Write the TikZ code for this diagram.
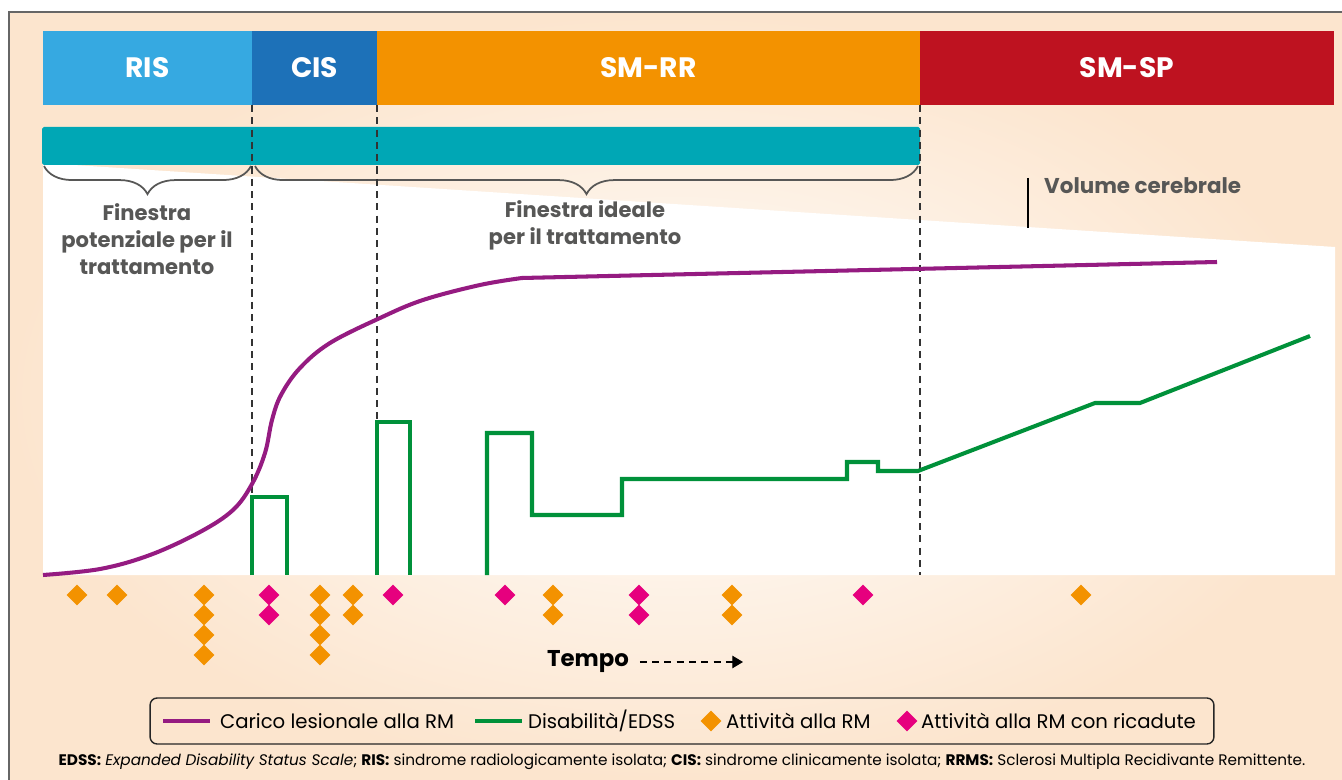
\documentclass[tikz,border=0pt]{standalone}
\usepackage{fontspec}
\setmainfont{Poppins}
\usetikzlibrary{shapes.geometric,decorations.pathreplacing,arrows.meta}

\definecolor{risblue}{HTML}{36A9E1}
\definecolor{cisblue}{HTML}{1D71B8}
\definecolor{rrorange}{HTML}{F39200}
\definecolor{spred}{HTML}{BE1220}
\definecolor{windowteal}{HTML}{00A7B5}
\definecolor{lesionpurple}{HTML}{951B81}
\definecolor{edssgreen}{HTML}{00913A}
\definecolor{relapsemagenta}{HTML}{E6007E}
\definecolor{labelgray}{HTML}{575756}
\definecolor{peach}{HTML}{FCE5CE}

\tikzset{
  phase/.style={fill=#1, text=white, font=\fontsize{16}{19}\selectfont\bfseries,
    minimum height=1.48cm, inner sep=0pt, outer sep=0pt},
  window/.style={text=labelgray, align=center, font=\fontsize{12}{15.4}\selectfont\bfseries},
  bracket/.style={labelgray, line width=1pt, decorate,
    decoration={brace, amplitude=16pt, aspect=0.5}},
  divider/.style={black!80, line width=0.7pt, dash pattern=on 4pt off 3pt},
  lesion/.style={diamond, fill=#1, inner sep=0pt, minimum size=0.42cm},
  entry/.style={anchor=west, font=\fontsize{11.2}{13}\selectfont, inner sep=1pt}
}

\begin{document}
\begin{tikzpicture}[x=0.02cm, y=-0.02cm]
  \useasboundingbox (0,0) rectangle (1342,780);

  % Background and frame
  \fill[white] (0,0) rectangle (1342,780);
  \shade[inner color=white, outer color=peach] (9,12) rectangle (1342,780);
  \draw[black!60, line width=0.7pt] (9,780) -- (9,12) -- (1342,12);

  % White plot area
  \fill[white] (43,163) -- (1335,247) -- (1335,575) -- (43,575) -- cycle;

  % Phases
  \node[phase=risblue, minimum width=4.18cm] (ris) at (147.5,68) {RIS};
  \node[phase=cisblue, minimum width=2.5cm] (cis) at (314.5,68) {CIS};
  \node[phase=rrorange, minimum width=10.86cm] (smrr) at (648.5,68) {SM-RR};
  \node[phase=spred, minimum width=8.28cm] (smsp) at (1127,68) {SM-SP};

  % Treatment window bar
  \fill[windowteal, rounded corners=1pt] (42,127) rectangle (920,165);

  % Braces
  \draw[bracket] (251,166) -- (44,166);
  \draw[bracket] (918,166) -- (255,166);
  \node[window] (potential) at (147,239) {Finestra\\potenziale per il\\trattamento};
  \node[window] (ideal) at (585,225) {Finestra ideale\\per il trattamento};

  % Phase dividers
  \draw[divider] (252,105) -- (252,575);
  \draw[divider] (377,105) -- (377,575);
  \draw[divider] (920,105) -- (920,575);

  % Brain volume label
  \draw[black, line width=0.6pt] (1028,178) -- (1028,228);
  \node[text=labelgray, anchor=west, font=\fontsize{12.2}{15}\selectfont\bfseries] (volume) at (1038,186) {Volume cerebrale};

  % Lesion load (MRI)
  \draw[lesionpurple, line width=2.3pt] plot[smooth, tension=0.6]
    coordinates {(43,575) (100,569) (150,555) (200,532) (233,510) (252,484) (265,453) (272,420) (281,395) (300,368) (330,343) (380,318) (423,300) (480,285) (522,278)}
    -- (1217,262);

  % Disability / EDSS
  \draw[edssgreen, line width=2.3pt] (252,575) -- (252,497) -- (287,497) -- (287,575);
  \draw[edssgreen, line width=2.3pt] (377,575) -- (377,422) -- (410,422) -- (410,575);
  \draw[edssgreen, line width=2.3pt] (487,575) -- (487,433) -- (532,433) -- (532,515)
    -- (622,515) -- (622,479) -- (847,479) -- (847,462) -- (878,462) -- (878,471)
    -- (918,471) -- (1095,403) -- (1140,403) -- (1310,336);

  % MRI activity markers
  \foreach \x/\n/\c in {77/1/rrorange, 117/1/rrorange, 204/4/rrorange, 269/2/relapsemagenta,
      320/4/rrorange, 353/2/rrorange, 393/1/relapsemagenta, 505/1/relapsemagenta,
      553/2/rrorange, 639/2/relapsemagenta, 732/2/rrorange, 863/1/relapsemagenta,
      1081/1/rrorange}
    \foreach \k in {1,...,\n}
      \node[lesion=\c] (d-\x-\k) at (\x,575+20*\k) {};

  % Time axis
  \node[font=\fontsize{13}{15}\selectfont\bfseries, inner sep=2pt] (tempo) at (588,662) {Tempo};
  \coordinate (tend) at (743,662);
  \draw[black, line width=0.6pt, dash pattern=on 4pt off 3pt, -{Triangle[length=6pt, width=7pt]}]
    ([xshift=4pt]tempo.east) -- (tend);

  % Legend
  \node[draw=black!85, line width=0.8pt, rounded corners=4pt, minimum width=21.28cm,
    minimum height=0.92cm] (legend) at (682,721) {};
  \coordinate (p1) at (163,721);
  \coordinate (p2) at (210,721);
  \draw[lesionpurple, line width=2.3pt] (p1) -- (p2);
  \node[entry] (lload) at (218,721) {Carico lesionale alla RM};
  \coordinate (g1) at (475,721);
  \coordinate (g2) at (522,721);
  \draw[edssgreen, line width=2.3pt] (g1) -- (g2);
  \node[entry] (ledss) at (526,721) {Disabilità/EDSS};
  \node[lesion=rrorange] (lmri) at (711,721) {};
  \node[entry] (lmritext) at (724,721) {Attività alla RM};
  \node[lesion=relapsemagenta] (lrel) at (907,721) {};
  \node[entry] (lreltext) at (919,721) {Attività alla RM con ricadute};

  % Footnote
  \node[font=\fontsize{8.7}{10}\selectfont] (notes) at (682,762)
    {\textbf{EDSS:} \textit{Expanded Disability Status Scale}; \textbf{RIS:} sindrome radiologicamente isolata; \textbf{CIS:} sindrome clinicamente isolata; \textbf{RRMS:} Sclerosi Multipla Recidivante Remittente.};
\end{tikzpicture}
\end{document}
